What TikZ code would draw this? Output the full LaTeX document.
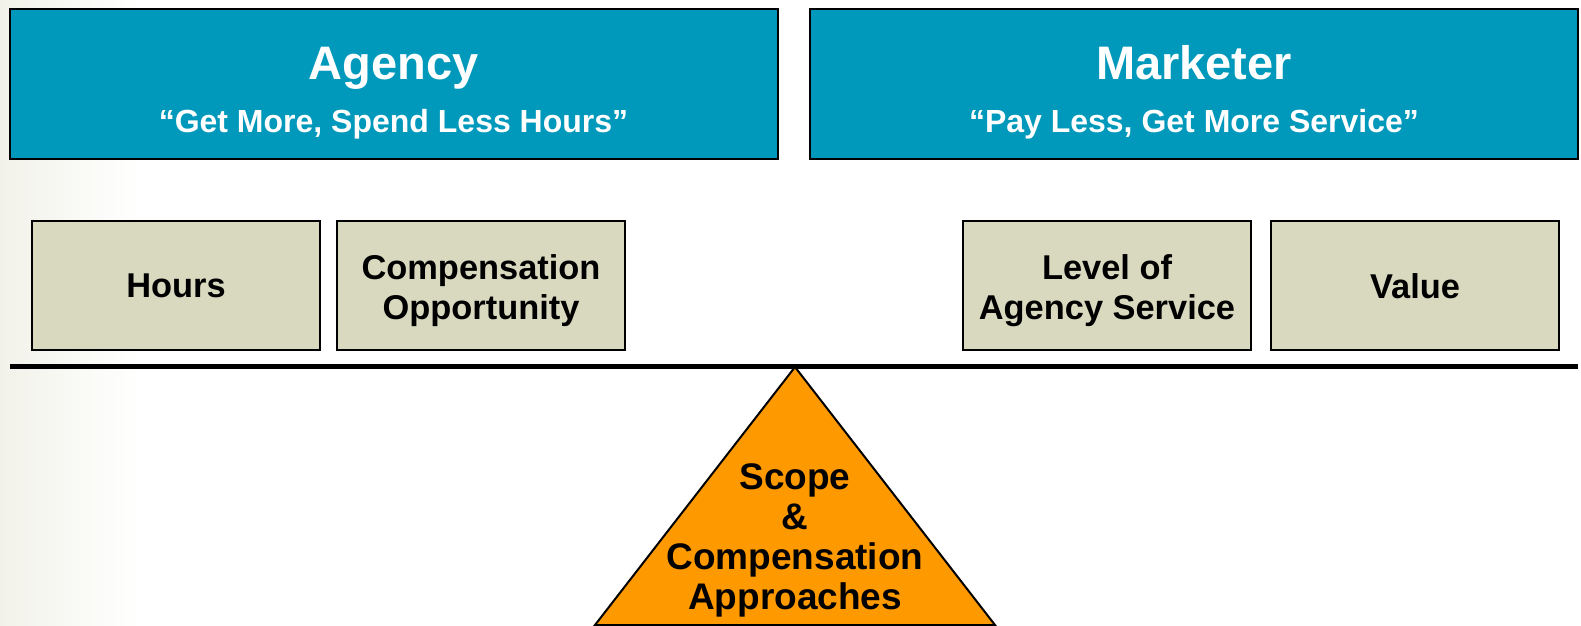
\documentclass[tikz,border=0pt]{standalone}
\usepackage{fontspec}
\setmainfont{Liberation Sans}
\usepackage{xcolor}
\usepackage{tikz}
\usetikzlibrary{positioning}
\definecolor{headteal}{HTML}{0099BB}
\definecolor{khaki}{HTML}{D9D9C0}
\definecolor{fulcrum}{HTML}{FF9900}
\definecolor{edgegray}{HTML}{F2F2EA}

\tikzset{
  topbox/.style={draw=black, line width=1pt, fill=headteal, minimum width=384pt, minimum height=75pt, inner sep=0pt},
  smallbox/.style={draw=black, line width=1pt, fill=khaki, minimum width=144pt, minimum height=64pt, inner sep=0pt},
  headtext/.style={text=white, anchor=base, inner sep=0pt, font=\bfseries\fontsize{23.5}{26}\selectfont},
  quotetext/.style={text=white, anchor=base, inner sep=0pt, font=\bfseries\fontsize{16}{18}\selectfont},
  boxtext/.style={align=center, inner sep=0pt, font=\bfseries\fontsize{17.2}{20}\selectfont},
}

\begin{document}
\begin{tikzpicture}[x=0.5pt, y=-0.5pt]
  \useasboundingbox (0,0) rectangle (1581,626);

  % faint shading along the left edge
  \shade[left color=edgegray, right color=white] (0,0) rectangle (140,626);

  % the two parties
  \node[topbox] (agency) at (393.5,84) {};
  \node[headtext] (agencyT) at (393.5,80) {Agency};
  \node[quotetext] (agencyQ) at (393.5,133) {“Get More, Spend Less Hours”};

  \node[topbox] (marketer) at (1194,84) {};
  \node[headtext] (marketerT) at (1194,80) {Marketer};
  \node[quotetext] (marketerQ) at (1194,133) {“Pay Less, Get More Service”};

  % weights on the beam
  \node[smallbox] (hours) at (176,285.5) {};
  \node[boxtext] (hoursT) at (176,286) {Hours};
  \node[smallbox] (comp) at (481,285.5) {};
  \node[boxtext] (compT) at (481,291) {Compensation\\Opportunity};
  \node[smallbox] (level) at (1107,285.5) {};
  \node[boxtext] (levelT) at (1107,291) {Level of\\Agency Service};
  \node[smallbox] (value) at (1415,285.5) {};
  \node[boxtext] (valueT) at (1415,286) {Value};

  % fulcrum
  \draw[fill=fulcrum, line width=1pt] (595,625) -- (795,367) -- (995,625) -- cycle;
  \node[boxtext, font=\bfseries\fontsize{18.5}{20}\selectfont] (scope) at (795,540.5)
    {Scope\\\&\\Compensation\\Approaches};

  % beam
  \coordinate (beamL) at (10,366);
  \coordinate (beamR) at (1578,366);
  \draw[line width=2.5pt] (beamL) -- (beamR);
\end{tikzpicture}
\end{document}
